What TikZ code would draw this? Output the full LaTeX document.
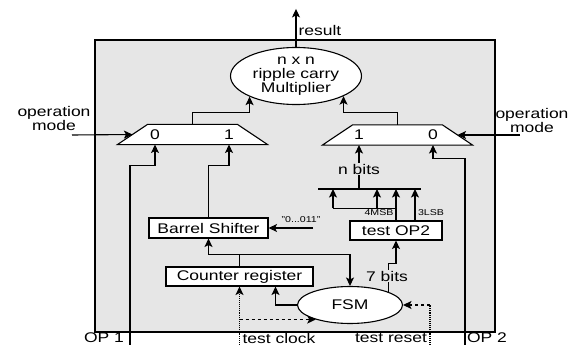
\documentclass[tikz,border=0pt]{standalone}
\usepackage{fontspec}
\setmainfont{Liberation Sans}[FakeStretch=1.25]
\usetikzlibrary{shapes.geometric,arrows.meta,calc}
\definecolor{boxgray}{HTML}{E6E6E6}

\begin{document}
\begin{tikzpicture}[x=1pt, y=-1pt, line width=1.1pt,
    font=\fontsize{14}{14}\selectfont,
    arr/.style={-{Stealth[length=8.5pt,width=8pt,inset=2pt]}},
    blk/.style={draw, fill=white, rectangle, inner sep=0pt},
    muxbox/.style={rectangle, minimum width=149pt, minimum height=19pt, inner sep=0pt},
    small/.style={font=\fontsize{8.5}{9}\selectfont, inner sep=0pt},
    lbl/.style={fill=boxgray, inner sep=1pt}]
    \useasboundingbox (0,0) rectangle (579,345);
    \draw[fill=boxgray, line width=1.3pt] (95,40) rectangle (495,332);

    \node[ellipse, draw, fill=white, minimum width=131pt, minimum height=57pt,
        inner sep=0pt, align=center] (mult) at (296,76) {n x n\\ripple carry\\Multiplier};
    \node[muxbox] (muxL) at (192.5,134.5) {};
    \node[muxbox] (muxR) at (397.5,135) {};
    \foreach \m in {muxL,muxR}
        \draw[fill=white] (\m.south west) -- ($(\m.north west)+(30,0)$)
            -- ($(\m.north east)+(-30,0)$) -- (\m.south east) -- cycle;
    \node (inL0) at (155,135) {0};
    \node (inL1) at (229,135) {1};
    \node (inR1) at (359,135) {1};
    \node (inR0) at (433,135) {0};
    \node[blk, minimum width=119pt, minimum height=20pt] (shifter) at (208.5,228) {Barrel Shifter};
    \node[blk, minimum width=147pt, minimum height=19pt] (counter) at (239.5,276.5) {Counter register};
    \node[blk, minimum width=92pt, minimum height=19pt] (testop) at (396,230.5) {test OP2};
    \node[ellipse, draw, fill=white, minimum width=105pt, minimum height=37pt,
        inner sep=0pt] (fsm) at (350,305) {FSM};

    % result and operation modes
    \draw[arr] (mult.north) -- ++(0,-38);
    \node[anchor=west, inner sep=0pt] (reslbl) at (298,30) {result};
    \node[align=center] (modeL) at (54,118) {operation\\mode};
    \node[align=center] (modeR) at (532,120) {operation\\mode};
    \coordinate (modeLsrc) at (72,135);
    \coordinate (modeRsrc) at (520,135);
    \draw[arr] (modeLsrc) -- ($(muxL.west)+(15,0)$);
    \draw[arr] (modeRsrc) -- ($(muxR.east)+(-15,0)$);
    \draw[arr] (muxL.north) -- ++(0,-12) -| (mult.204);
    \draw[arr] (muxR.north) -- ++(0,-12) -| (mult.337);

    % operands
    \coordinate (op1) at (130,345);
    \coordinate (op2) at (465,345);
    \node (op1lbl) at (104,338) {OP 1};
    \node (op2lbl) at (487,338) {OP 2};
    \draw[arr] (op1) |- ($(inL0 |- muxL.south)+(0,21)$) -- (inL0 |- muxL.south);
    \draw[arr] (shifter.north) |- ($(inL1 |- muxL.south)+(0,21)$) -- (inL1 |- muxL.south);
    \draw[arr] (op2) |- ($(inR0 |- muxR.south)+(0,13)$) -- (inR0 |- muxR.south);

    % shifter input
    \coordinate (consts) at (313,228);
    \draw[arr] (consts) -- (shifter.east);
    \node[small] (constlbl) at (301,220) {"0...011"};

    % counter and fsm
    \draw (counter.north) -- ++(0,-12) coordinate (split);
    \draw[arr] (split) -| (shifter.south);
    \draw[arr] (split) -| (fsm.north);
    \draw[arr] (fsm.west) -| ($(counter.south)+(36,0)$);
    \draw[arr] (fsm.19) |- ($(testop.south)+(0,23)$) -- (testop.south);
    \node[lbl] (sevenbits) at (387,276) {7 bits};

    % test OP2 to bus
    \coordinate (busL) at (318,189);
    \coordinate (busR) at (421,189);
    \draw (busL) -- (busR);
    \coordinate (msb) at ($(testop.north)+(0,-12)$);
    \coordinate (msbL) at ($(msb)+(-63,0)$);
    \coordinate (msbM) at ($(msb)+(-19,0)$);
    \coordinate (lsb) at ($(testop.north)+(19,0)$);
    \draw (msb) -- (msbL);
    \draw[arr] (testop.north) -- (testop.north |- busL);
    \draw[arr] (msbL) -- (msbL |- busL);
    \draw[arr] (msbM) -- (msbM |- busL);
    \draw[arr] (lsb) -- (lsb |- busL);
    \node[small] (msblbl) at (379,213) {4MSB};
    \node[small] (lsblbl) at (431,213) {3LSB};
    \draw[arr] (busL -| inR1) -- (inR1 |- muxR.south);
    \node[lbl] (nbits) at (359,169) {n bits};

    % test signals
    \coordinate (tclk) at (239.5,345);
    \coordinate (trst) at (430,345);
    \draw[arr, densely dotted] (tclk) -- (counter.south);
    \draw[arr, dashed] (tclk |- fsm.203) -- (fsm.203);
    \draw[densely dotted] (trst) -- (trst |- fsm.east);
    \draw[arr, dashed] (trst |- fsm.east) -- (fsm.east);
    \node (clklbl) at (279,338) {test clock};
    \node (rstlbl) at (391,338) {test reset};
\end{tikzpicture}
\end{document}
